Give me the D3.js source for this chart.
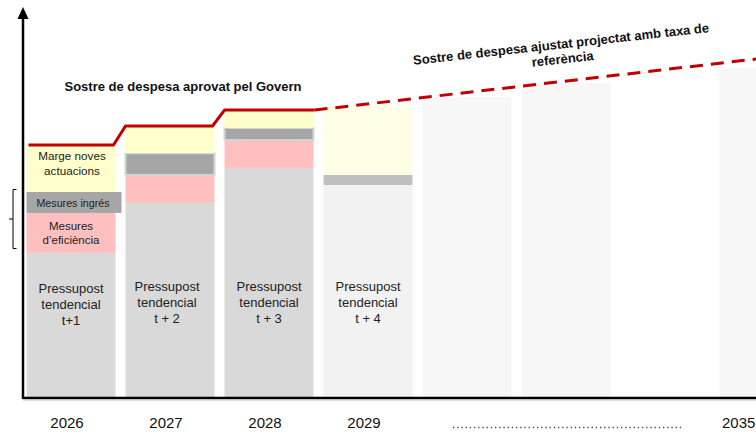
<!DOCTYPE html>
<html><head><meta charset="utf-8">
<script src="https://cdn.jsdelivr.net/npm/d3@7"></script>
<style>html,body{margin:0;padding:0;background:#fff;overflow:hidden}svg{display:block;font-family:"Liberation Sans",Arial,sans-serif}</style>
</head><body>
<svg id="c" width="756" height="434"></svg>
<script>
// ---- data ----
const slots = ['2026','2027','2028','2029','2030','2031','…','2035'];
const years = ['2026','2027','2028','2029'];
const tendencial = [37.4, 50.3, 59.3, 54.9];
const eficiencia = [10.3, 7.2, 7.2, 0];
const ingres = [5.4, 5.6, 3.1, 2.6];
const marge = [12.1, 7.0, 4.6, 18.0];
const tLabels = ['t+1', 't + 2', 't + 3', 't + 4'];
const approvedCeiling = [65.2, 70.1, 74.2];
const futureYears = ['2030', '2031', '2035'];
const futureTotals = [77.6, 81.2, 85.1];
const projectedYears = ['2028', '2035'];
const projectedCeiling = [74.2, 87.6];
const axisLabels = ['2026', '2027', '2028', '2029'];

// ---- scales ----
const svg = d3.select('#c');
const x = d3.scaleBand().domain(slots).range([26.5, 808.5]).paddingInner(0.101).paddingOuter(0);
const y = d3.scaleLinear().domain([0, 100]).range([398, 10]);
const bw = x.bandwidth();

const full = {yel:'#ffffcc', ing:'#a6a6a6', ef:'#ffbfbf', ten:'#d9d9d9'};
const faded = {yel:'#ffffe6', ing:'#bfbfbf', ef:'#ffe6e6', ten:'#f2f2f2'};

// future faded bars
svg.append('g').selectAll('rect').data(futureYears).join('rect')
  .attr('x', d => x(d)).attr('width', bw)
  .attr('y', (d, i) => y(futureTotals[i])).attr('height', (d, i) => y(0) - y(futureTotals[i]))
  .attr('fill', '#f7f7f7');

// stacked bars
const g = svg.append('g');
years.forEach((yr, i) => {
  const pal = i < 3 ? full : faded;
  let base = 0;
  const segs = [
    {v: tendencial[i], c: pal.ten, k: 'ten'},
    {v: eficiencia[i], c: pal.ef, k: 'ef'},
    {v: ingres[i], c: pal.ing, k: 'ing'},
    {v: marge[i], c: pal.yel, k: 'yel'}
  ];
  segs.forEach(s => {
    const y0 = base, y1 = base + s.v;
    base = y1;
    if (s.v <= 0) return;
    const extra = (s.k === 'ing' && i === 0) ? 6 : 0;
    const r = g.append('rect')
      .attr('x', x(yr)).attr('width', bw + extra)
      .attr('y', y(y1)).attr('height', y(y0) - y(y1))
      .attr('fill', s.c);
    if (s.k === 'ing' && i > 0 && i < 3) {
      r.attr('stroke', '#d4d4d4').attr('stroke-width', 2);
    }
  });
});

// axes
svg.append('line').attr('x1', 23).attr('x2', 756).attr('y1', y(0)).attr('y2', y(0))
  .attr('stroke', '#000').attr('stroke-width', 2.5);
svg.append('line').attr('x1', 23).attr('x2', 756).attr('y1', y(0) + 2).attr('y2', y(0) + 2)
  .attr('stroke', '#bbb').attr('stroke-width', 1);
svg.append('line').attr('x1', 23).attr('x2', 23).attr('y1', 399).attr('y2', 18)
  .attr('stroke', '#000').attr('stroke-width', 2.5);
svg.append('path').attr('d', 'M23,7 L17.5,19 L28.5,19 Z').attr('fill', '#000');

// bracket
svg.append('path').attr('d', 'M16.5,189.5 H13 V248.5 H16.5 M13,219 H9')
  .attr('fill', 'none').attr('stroke', '#000').attr('stroke-width', 1);

// approved ceiling (solid)
const pts = [];
approvedCeiling.forEach((v, i) => {
  pts.push([x(years[i]) + (i === 0 ? 2 : 0), y(v)]);
  pts.push([x(years[i]) + bw - (i < 2 ? 2 : -1), y(v)]);
});
svg.append('path').attr('d', d3.line()(pts)).attr('fill', 'none')
  .attr('stroke', '#c00000').attr('stroke-width', 3).attr('stroke-linejoin', 'round');

// projected ceiling (dashed)
const ppts = [[x(projectedYears[0]) + bw + 1, y(projectedCeiling[0])],
              [x(projectedYears[1]) + bw / 2, y(projectedCeiling[1])]];
svg.append('path').attr('d', d3.line()(ppts)).attr('fill', 'none')
  .attr('stroke', '#c00000').attr('stroke-width', 3).attr('stroke-dasharray', '13,8');

// titles
svg.append('text').attr('x', 183).attr('y', 91).attr('text-anchor', 'middle')
  .attr('font-size', 13).attr('font-weight', 'bold').attr('fill', '#111')
  .text('Sostre de despesa aprovat pel Govern');
const rt = svg.append('text').attr('transform', 'translate(561.5,48.5) rotate(-6.3)')
  .attr('text-anchor', 'middle').attr('font-size', 13).attr('font-weight', 'bold').attr('fill', '#111');
rt.append('tspan').attr('x', 0).attr('y', 0).text('Sostre de despesa ajustat projectat amb taxa de');
rt.append('tspan').attr('x', 0).attr('y', 15).text('referència');

// segment labels 2026
const cx0 = x('2026') + bw / 2;
function ml(lines, cx, y0, fs, lh) {
  const t = svg.append('text').attr('text-anchor', 'middle').attr('font-size', fs).attr('fill', '#222');
  lines.forEach((l, k) => t.append('tspan').attr('x', cx).attr('y', y0 + k * lh).text(l));
}
ml(['Marge noves', 'actuacions'], cx0 + 1, 160, 11.7, 15);
ml(['Mesures ingrés'], cx0 + 2, 206.5, 10.7, 13);
ml(['Mesures', 'd’eficiència'], cx0, 230, 11.5, 14);

// tendencial labels
years.forEach((yr, i) => {
  ml(['Pressupost', 'tendencial', tLabels[i]], x(yr) + bw / 2 - (i === 1 ? 3 : 0), i === 0 ? 293 : 291, 13, 16);
});

// x labels
svg.append('g').selectAll('text').data(axisLabels).join('text')
  .attr('x', d => x(d) + bw / 2 - 4).attr('y', 428).attr('text-anchor', 'middle')
  .attr('font-size', 15).attr('fill', '#111').text(d => d);
svg.append('text').attr('x', 722).attr('y', 428).attr('font-size', 15).attr('fill', '#111').text('2035');
svg.append('line').attr('x1', 453).attr('x2', 683).attr('y1', 427.5).attr('y2', 427.5)
  .attr('stroke', '#444').attr('stroke-width', 1.3).attr('stroke-dasharray', '1.3,2.9');
</script>
</body></html>
